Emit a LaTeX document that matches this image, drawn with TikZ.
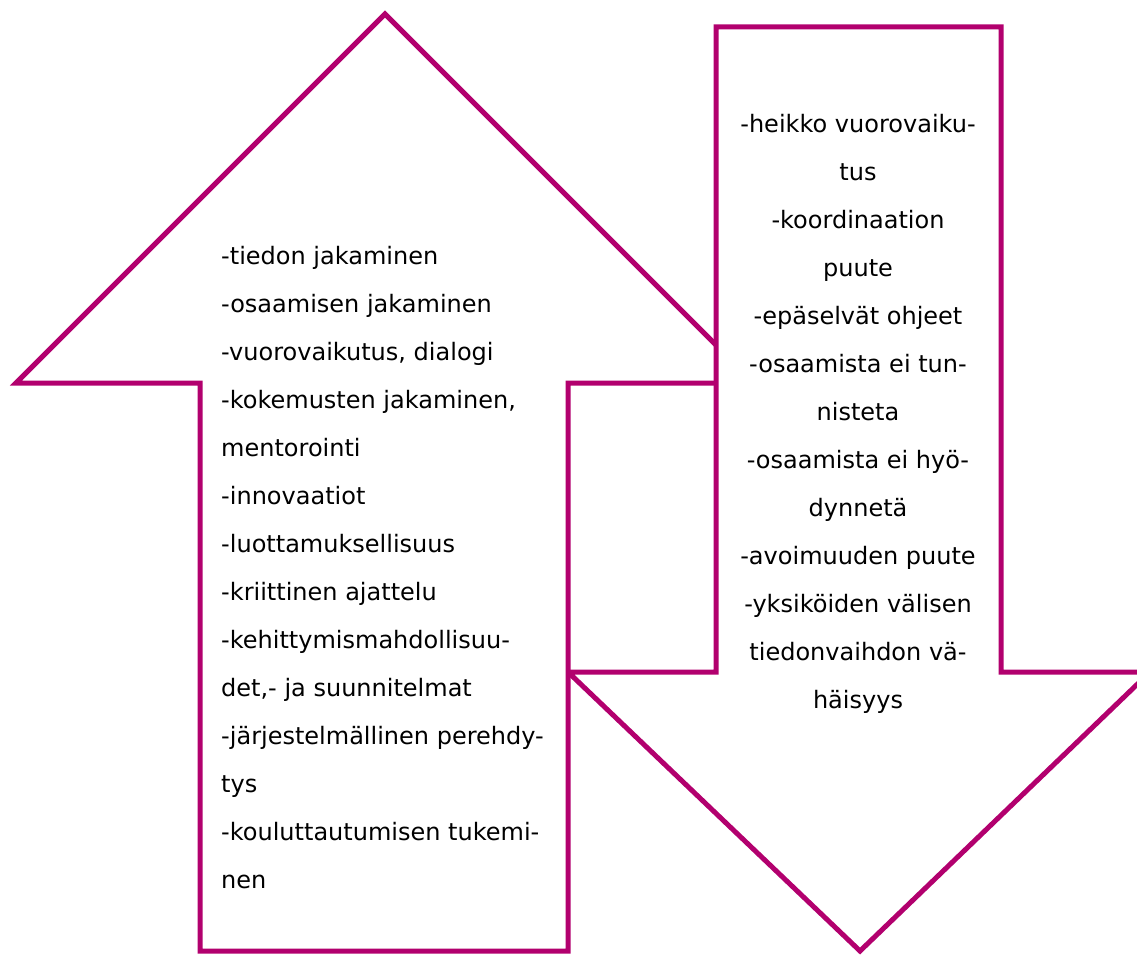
\documentclass[tikz,border=0pt]{standalone}
\usepackage{fontspec}
\setmainfont{DejaVu Sans}
\definecolor{arrowmag}{RGB}{178,0,110}
\tikzset{
  bigarrow/.style={draw=arrowmag, line width=5pt, fill=white, line join=miter},
  listtext/.style={inner sep=0pt, font=\fontsize{24}{48}\selectfont}
}
\begin{document}
\begin{tikzpicture}[x=1pt,y=-1pt]
  \useasboundingbox (0,0) rectangle (1137,955);
  % up arrow
  \draw[bigarrow] (385,14) -- (754,383) -- (568,383) -- (568,951)
    -- (200,951) -- (200,383) -- (16,383) -- cycle;
  % down arrow, drawn on top
  \draw[bigarrow, miter limit=2] (716,27) -- (1001,27) -- (1001,672) -- (1150,672)
    -- (860,951) -- (568,672) -- (716,672) -- cycle;
  \node[listtext, anchor=north west, align=left] (gains) at (221,246) {%
    -tiedon jakaminen\\
    -osaamisen jakaminen\\
    -vuorovaikutus, dialogi\\
    -kokemusten jakaminen,\\
    mentorointi\\
    -innovaatiot\\
    -luottamuksellisuus\\
    -kriittinen ajattelu\\
    -kehittymismahdollisuu-\\
    det,- ja suunnitelmat\\
    -järjestelmällinen perehdy-\\
    tys\\
    -kouluttautumisen tukemi-\\
    nen};
  \node[listtext, anchor=north, align=center] (losses) at (858,114) {%
    -heikko vuorovaiku-\\
    tus\\
    -koordinaation\\
    puute\\
    -epäselvät ohjeet\\
    -osaamista ei tun-\\
    nisteta\\
    -osaamista ei hyö-\\
    dynnetä\\
    -avoimuuden puute\\
    -yksiköiden välisen\\
    tiedonvaihdon vä-\\
    häisyys};
\end{tikzpicture}
\end{document}
